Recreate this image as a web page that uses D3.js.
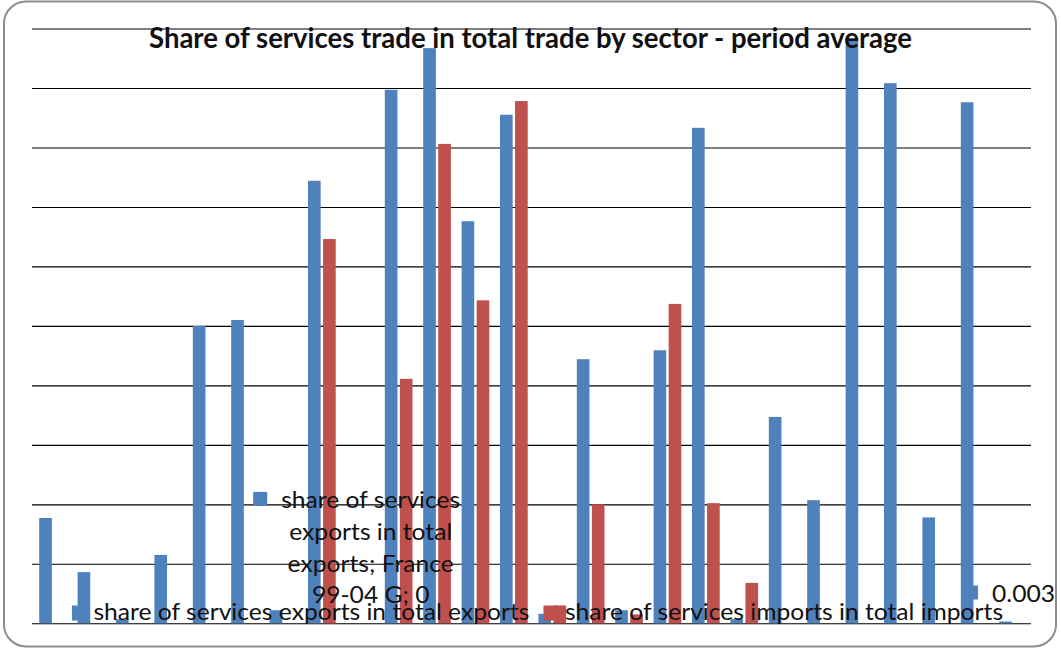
<!DOCTYPE html>
<html>
<head>
<meta charset="utf-8">
<script src="https://cdn.jsdelivr.net/npm/d3@7"></script>
<style>
  body { margin: 0; background: #fff; }
  svg { display: block; }
  text { font-family: Lato, "Open Sans", "DejaVu Sans", sans-serif; }
</style>
</head>
<body>
<svg id="chart" width="1061" height="652"></svg>
<script>
// ---- data -------------------------------------------------------------
const sectorCodes = ["A", "B", "C", "DA", "DB", "DC", "E", "F", "G", "H", "I60", "I61", "I62",
                     "I63", "I64", "J65", "J66", "J67", "K70", "K71", "K72", "K73", "K74", "L", "M", "N"];
const categories = sectorCodes.map(c => "France 99-04 " + c);

const seriesNames = [
  "share of services exports in total exports",
  "share of services imports in total imports"
];

const exportsShare = [0.177, 0.086, 0.007, 0.115, 0.500, 0.510, 0.022, 0.744, 0, 0.897, 0.967, 0.676, 0.855,
                      0.016, 0.444, 0.022, 0.459, 0.833, 0.007, 0.347, 0.207, 0.984, 0.908, 0.178, 0.876, 0.003];
const importsShare = [0, 0, 0, 0, 0, 0, 0, 0.646, 0, 0.411, 0.806, 0.543, 0.878,
                      0.030, 0.200, 0.015, 0.537, 0.202, 0.068, 0, 0, 0, 0, 0, 0, 0];

const titleText = "Share of services trade in total trade by sector - period average";

// Data labels shown on individual bars: which series / category and which fields
const dataLabels = [
  { series: 0, index: 8,  fields: ["series", "category", "value"] },
  { series: 0, index: 25, fields: ["value"] }
];

const seriesColors = ["#4F81BD", "#C0504D"];

// ---- layout -----------------------------------------------------------
const W = 1061, H = 652;
const plot = { left: 33.8, right: 1032.2, top: 28.5, bottom: 623.3 };
const svg = d3.select("#chart");

const values = [exportsShare, importsShare];
const rows = categories.map((c, i) => ({ cat: c, vals: values.map(v => v[i]) }));

// frame
svg.append("rect")
  .attr("x", 4).attr("y", 1.5).attr("width", 1052).attr("height", 645)
  .attr("rx", 22).attr("ry", 22)
  .attr("fill", "#fff").attr("stroke", "#8c8c8c").attr("stroke-width", 2);

const x0 = d3.scaleBand().domain(categories).range([plot.left, plot.right]);
const x1 = d3.scaleBand().domain([0, 1]).range([5.4, 5.4 + 27.7]).paddingInner(0.16);
const y = d3.scaleLinear().domain([0, 1]).range([plot.bottom, plot.top]);

// horizontal gridlines (no tick labels on this chart)
const grid = svg.append("g")
  .attr("transform", "translate(32,0)")
  .call(d3.axisLeft(y).ticks(10).tickSize(-(1031 - 32)).tickFormat(""));
grid.select(".domain").remove();
grid.selectAll("line").attr("stroke", "#000").attr("stroke-width", 1.1);

// bars
const groups = svg.append("g").selectAll("g").data(rows).join("g")
  .attr("transform", d => `translate(${x0(d.cat)},0)`);
groups.selectAll("rect")
  .data(d => d.vals.map((v, s) => ({ s, v })).filter(e => e.v > 0))
  .join("rect")
  .attr("x", e => x1(e.s))
  .attr("width", x1.bandwidth())
  .attr("y", e => y(e.v))
  .attr("height", e => y(0) - y(e.v))
  .attr("fill", e => seriesColors[e.s]);

// ---- text helpers ------------------------------------------------------
const bodySize = 24;
function naturalWidth(str, size, weight) {
  const t = svg.append("text").attr("font-size", size).attr("font-weight", weight || "normal").text(str);
  const w = t.node().getComputedTextLength();
  t.remove();
  return w;
}
// horizontal compression so body text keeps the narrow proportions of the chart font
const squeeze = 436 / naturalWidth(seriesNames[0], bodySize);
const textW = str => naturalWidth(str, bodySize) * squeeze;
function fitted(sel, str) {
  sel.text(str).attr("textLength", textW(str)).attr("lengthAdjust", "spacingAndGlyphs");
  return sel;
}

// ---- data labels ------------------------------------------------------
const fmt = d3.format("~g");
const lineH = 31.8, wrapW = 185, keyS = 14;
dataLabels.forEach(lab => {
  const v = values[lab.series][lab.index];
  const parts = lab.fields.map(f => f === "series" ? seriesNames[lab.series]
                                  : f === "category" ? categories[lab.index] : fmt(v));
  const full = parts.join("; ");
  // greedy word wrap
  const words = full.split(" ");
  const lines = [];
  let cur = "";
  words.forEach(w => {
    const test = cur ? cur + " " + w : w;
    if (cur && textW(test) > wrapW) { lines.push(cur); cur = w; } else cur = test;
  });
  lines.push(cur);
  const tw = d3.max(lines, textW);
  const barCx = x0(categories[lab.index]) + x1(lab.series) + x1.bandwidth() / 2;
  const block = keyS + 14 + tw;
  const left = barCx + 4 - block / 2;
  const lastBase = y(v) - 20;
  const firstBase = lastBase - (lines.length - 1) * lineH;
  const g = svg.append("g");
  g.append("rect").attr("x", left).attr("y", firstBase - 16).attr("width", keyS).attr("height", keyS)
    .attr("fill", seriesColors[lab.series]);
  lines.forEach((ln, i) => {
    fitted(g.append("text"), ln)
      .attr("x", left + keyS + 14 + tw / 2)
      .attr("y", firstBase + i * lineH)
      .attr("text-anchor", "middle")
      .attr("font-size", bodySize)
      .attr("fill", "#111");
  });
});

// ---- legend -----------------------------------------------------------
const legKey = 15, legGap = 6.5, legSpacing = 14, legCenter = 537.5, legBase = 620;
const entryW = seriesNames.map(n => legKey + legGap + textW(n));
let lx = legCenter - (d3.sum(entryW) + legSpacing) / 2;
seriesNames.forEach((name, s) => {
  svg.append("rect").attr("x", lx).attr("y", legBase - 14.5).attr("width", legKey).attr("height", legKey)
    .attr("fill", seriesColors[s]);
  fitted(svg.append("text"), name)
    .attr("x", lx + legKey + legGap).attr("y", legBase)
    .attr("font-size", bodySize).attr("fill", "#111");
  lx += entryW[s] + legSpacing;
});

// ---- title ------------------------------------------------------------
svg.append("text")
  .attr("x", 530.5).attr("y", 48)
  .attr("text-anchor", "middle")
  .attr("font-size", 28).attr("font-weight", "bold").attr("fill", "#111")
  .attr("textLength", 763).attr("lengthAdjust", "spacingAndGlyphs")
  .text(titleText);
</script>
</body>
</html>
